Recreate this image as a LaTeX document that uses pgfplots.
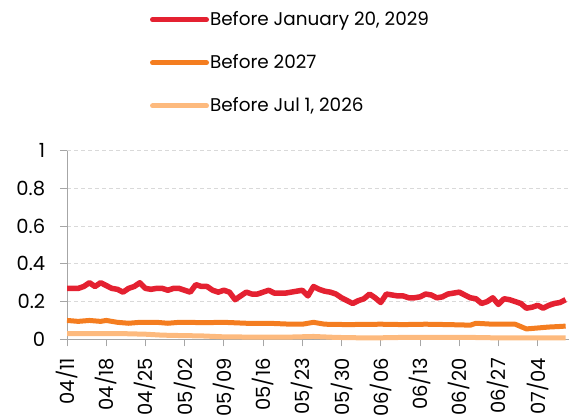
\documentclass[border=0pt]{standalone}
\usepackage{fontspec}
\setmainfont{Poppins}
\usepackage{pgfplots}
\pgfplotsset{compat=1.18}
\definecolor{cred}{HTML}{E42131}
\definecolor{corange}{HTML}{F47D20}
\definecolor{cpeach}{HTML}{FDBA7E}
\definecolor{gridc}{HTML}{D9D9D9}
\definecolor{axc}{HTML}{A6A6A6}
\begin{document}
\fontsize{17bp}{20bp}\selectfont
\begin{tikzpicture}
\useasboundingbox (0,0) rectangle (577bp,417bp);
\begin{axis}[
  at={(67bp,77.7bp)}, anchor=south west,
  scale only axis, width=502bp, height=188.6bp,
  xmin=0, xmax=89.6, ymin=0, ymax=1,
  clip=false,
  axis x line*=bottom, axis y line*=left,
  axis line style={axc, line width=0.8bp, -},
  tick style={axc, line width=0.8bp}, tick align=outside, major tick length=7bp,
  xtick={0,7,...,84},
  xticklabels={04/11,04/18,04/25,05/02,05/09,05/16,05/23,05/30,06/06,06/13,06/20,06/27,07/04},
  x tick label style={rotate=90, anchor=east, xshift=-6bp},
  y tick label style={xshift=-9bp},
  ytick={0,0.2,0.4,0.6,0.8,1},
  yticklabels={0,0.2,0.4,0.6,0.8,1},
  ymajorgrids, grid style={gridc, line width=0.8bp, dash pattern=on 4bp off 3bp},
  tick label style={font=\fontsize{19.5bp}{22bp}\selectfont},
  legend style={at={(0.165,1.745)}, anchor=north west, draw=none, fill=none,
    font=\fontsize{18.4bp}{21bp}\selectfont, row sep=24.5bp, inner sep=0pt,
    nodes={inner sep=1bp}},
  legend cell align=left,
  legend image code/.code={\draw[#1, line width=5bp, line cap=round] (0bp,0bp) -- (54bp,0bp);},
]
\addplot[cred, line width=5.5bp, line join=round] coordinates {
(0,0.27)(1,0.27)(2,0.27)(3,0.28)(4,0.30)(5,0.28)(6,0.30)(7,0.285)(8,0.27)(9,0.265)
(10,0.25)(11,0.27)(12,0.28)(13,0.30)(14,0.27)(15,0.265)(16,0.27)(17,0.27)(18,0.26)(19,0.27)
(20,0.27)(21,0.26)(22,0.25)(23,0.29)(24,0.28)(25,0.28)(26,0.26)(27,0.25)(28,0.26)(29,0.25)
(30,0.21)(31,0.23)(32,0.25)(33,0.24)(34,0.24)(35,0.25)(36,0.26)(37,0.245)(38,0.245)(39,0.245)
(40,0.25)(41,0.255)(42,0.26)(43,0.23)(44,0.28)(45,0.265)(46,0.255)(47,0.25)(48,0.24)(49,0.22)
(50,0.205)(51,0.19)(52,0.205)(53,0.215)(54,0.24)(55,0.22)(56,0.195)(57,0.24)(58,0.235)(59,0.23)
(60,0.23)(61,0.22)(62,0.22)(63,0.225)(64,0.24)(65,0.235)(66,0.22)(67,0.225)(68,0.24)(69,0.245)
(70,0.25)(71,0.235)(72,0.22)(73,0.215)(74,0.19)(75,0.20)(76,0.22)(77,0.185)(78,0.215)(79,0.21)
(80,0.20)(81,0.19)(82,0.165)(83,0.17)(84,0.18)(85,0.165)(86,0.18)(87,0.19)(88,0.195)(89,0.21)};
\addlegendentry{Before January 20, 2029}
\addplot[corange, line width=5bp, line join=round] coordinates {
(0,0.10)(2,0.095)(4,0.10)(6,0.095)(7,0.10)(9,0.09)(11,0.085)(13,0.09)(16,0.09)(18,0.085)
(20,0.09)(22,0.09)(24,0.088)(28,0.09)(32,0.085)(36,0.085)(40,0.08)(42,0.08)(44,0.09)(46,0.08)
(50,0.078)(56,0.08)(60,0.078)(64,0.08)(68,0.078)(72,0.075)(73,0.085)(76,0.08)(80,0.08)(82,0.055)
(84,0.06)(86,0.065)(88,0.068)(89,0.07)};
\addlegendentry{Before 2027}
\addplot[cpeach, line width=5bp, line join=round] coordinates {
(0,0.03)(5,0.03)(10,0.03)(14,0.027)(17,0.022)(20,0.02)(24,0.018)(28,0.013)(32,0.012)(36,0.012)
(40,0.012)(44,0.015)(48,0.01)(52,0.008)(56,0.008)(60,0.01)(64,0.01)(68,0.01)(72,0.01)(76,0.008)
(80,0.008)(84,0.007)(89,0.007)};
\addlegendentry{Before Jul 1, 2026}
\end{axis}
\end{tikzpicture}
\end{document}
